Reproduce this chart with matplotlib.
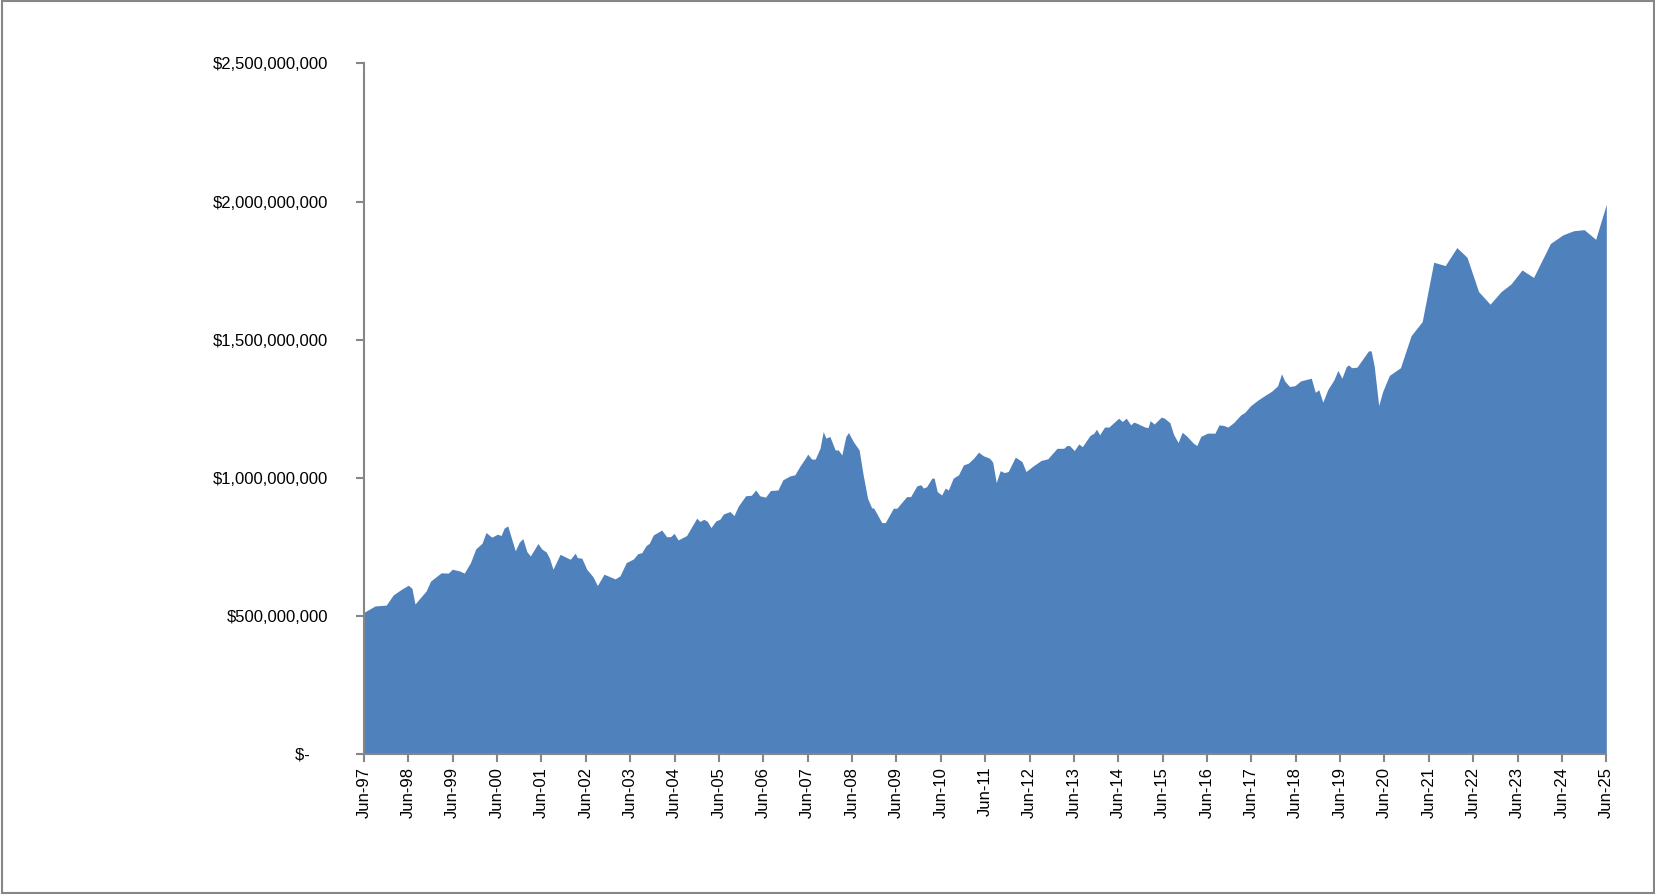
import matplotlib
matplotlib.use("Agg")
import matplotlib.pyplot as plt
from matplotlib.ticker import FuncFormatter, FixedLocator

# decimal year, portfolio value in $ millions
years = [1997.5, 1997.75, 1998.0, 1998.16, 1998.35, 1998.5, 1998.58, 1998.65, 1998.76, 1998.9,
         1999.0, 1999.24, 1999.4, 1999.49, 1999.65, 1999.76, 1999.9, 2000.02, 2000.16, 2000.25,
         2000.38, 2000.51, 2000.59, 2000.66, 2000.74, 2000.91, 2001.0, 2001.08, 2001.17, 2001.25,
         2001.42, 2001.51, 2001.61, 2001.68, 2001.76, 2001.92, 2002.15, 2002.26, 2002.31, 2002.41,
         2002.52, 2002.66, 2002.76, 2002.91, 2003.16, 2003.27, 2003.41, 2003.57, 2003.67, 2003.76,
         2003.86, 2003.93, 2004.02, 2004.21, 2004.32, 2004.41, 2004.49, 2004.58, 2004.77, 2005.0,
         2005.07, 2005.16, 2005.24, 2005.32, 2005.43, 2005.52, 2005.6, 2005.75, 2005.84, 2005.93,
         2006.1, 2006.23, 2006.33, 2006.42, 2006.55, 2006.66, 2006.83, 2006.94, 2007.1, 2007.21,
         2007.32, 2007.47, 2007.5, 2007.59, 2007.67, 2007.78, 2007.85, 2007.91, 2008.0, 2008.12,
         2008.19, 2008.27, 2008.36, 2008.42, 2008.53, 2008.66, 2008.75, 2008.85, 2008.94, 2008.99,
         2009.17, 2009.25, 2009.43, 2009.51, 2009.73, 2009.82, 2009.96, 2010.05, 2010.11, 2010.18,
         2010.3, 2010.35, 2010.42, 2010.52, 2010.6, 2010.67, 2010.78, 2010.9, 2011.01, 2011.12,
         2011.24, 2011.35, 2011.46, 2011.6, 2011.67, 2011.75, 2011.84, 2011.93, 2012.02, 2012.18,
         2012.33, 2012.42, 2012.59, 2012.76, 2012.91, 2013.12, 2013.27, 2013.34, 2013.4, 2013.51,
         2013.61, 2013.69, 2013.86, 2013.95, 2014.01, 2014.08, 2014.19, 2014.29, 2014.44, 2014.51,
         2014.59, 2014.68, 2014.78, 2014.85, 2014.93, 2015.1, 2015.17, 2015.22, 2015.31, 2015.47,
         2015.54, 2015.63, 2015.66, 2015.75, 2015.85, 2015.94, 2016.04, 2016.19, 2016.27, 2016.36,
         2016.51, 2016.68, 2016.77, 2016.87, 2016.97, 2017.1, 2017.26, 2017.35, 2017.48, 2017.65,
         2017.8, 2017.95, 2018.09, 2018.18, 2018.25, 2018.36, 2018.48, 2018.61, 2018.85, 2018.94,
         2019.02, 2019.11, 2019.22, 2019.36, 2019.45, 2019.54, 2019.64, 2019.69, 2019.76, 2019.88,
         2020.14, 2020.2, 2020.27, 2020.37, 2020.46, 2020.61, 2020.86, 2021.1, 2021.35, 2021.61,
         2021.87, 2022.13, 2022.36, 2022.62, 2022.88, 2023.13, 2023.35, 2023.6, 2023.86, 2024.24,
         2024.52, 2024.76, 2025.0, 2025.26, 2025.5]
values = [512, 535, 538, 575, 596, 610, 599, 542, 563, 589,
          625, 655, 654, 668, 662, 654, 692, 742, 762, 801,
          784, 795, 790, 817, 825, 735, 766, 779, 732, 716,
          761, 741, 730, 708, 668, 722, 704, 726, 710, 708,
          668, 641, 609, 650, 633, 644, 692, 705, 724, 728,
          754, 762, 792, 810, 786, 786, 798, 774, 790, 853,
          841, 849, 841, 819, 843, 849, 868, 877, 862, 895,
          934, 936, 955, 934, 929, 953, 955, 992, 1006, 1010,
          1040, 1076, 1085, 1067, 1067, 1107, 1167, 1143, 1149, 1100,
          1100, 1082, 1149, 1163, 1130, 1100, 1010, 925, 891, 889,
          837, 837, 889, 889, 931, 931, 970, 974, 962, 967,
          998, 998, 949, 937, 962, 955, 998, 1010, 1046, 1052,
          1070, 1092, 1079, 1070, 1056, 982, 1025, 1018, 1022, 1074,
          1058, 1022, 1043, 1062, 1068, 1106, 1106, 1116, 1116, 1098,
          1122, 1112, 1152, 1161, 1175, 1155, 1183, 1183, 1205, 1215,
          1203, 1215, 1191, 1201, 1196, 1183, 1181, 1206, 1194, 1219,
          1215, 1203, 1200, 1155, 1127, 1164, 1151, 1125, 1116, 1149,
          1161, 1161, 1191, 1189, 1183, 1199, 1227, 1236, 1260, 1281,
          1297, 1312, 1332, 1376, 1350, 1330, 1333, 1350, 1360, 1309,
          1318, 1273, 1318, 1354, 1388, 1360, 1402, 1408, 1398, 1400,
          1459, 1459, 1402, 1261, 1312, 1370, 1398, 1514, 1565, 1780,
          1768, 1833, 1798, 1674, 1628, 1674, 1701, 1752, 1725, 1848,
          1879, 1894, 1898, 1863, 1990]

tick_years = list(range(1997, 2026))
tick_labels = ["Jun-%02d" % (y % 100) for y in tick_years]

GRAY = "#868686"
FILL = "#4f81bd"

plt.rcParams["font.family"] = ["Liberation Sans", "DejaVu Sans"]

fig = plt.figure(figsize=(16.56, 8.94), dpi=100)
ax = fig.add_axes([0.2198, 0.157, 0.7502, 0.772])

ax.fill_between(years, [v * 1e6 for v in values], 0, color=FILL, linewidth=0)

ax.set_xlim(1997.5, 2025.5)
ax.set_ylim(0, 2.5e9)
ax.xaxis.set_major_locator(FixedLocator([y + 0.5 for y in tick_years]))
ax.set_xticklabels(tick_labels, rotation=90)
ax.set_yticks([0, 5e8, 1e9, 1.5e9, 2e9, 2.5e9])


def money(v, pos):
    if v == 0:
        return "$-    "
    return "${:,.0f}".format(v)


ax.yaxis.set_major_formatter(FuncFormatter(money))
for s in ["top", "right"]:
    ax.spines[s].set_visible(False)
for s in ["left", "bottom"]:
    ax.spines[s].set_color(GRAY)
    ax.spines[s].set_linewidth(1.5)
ax.tick_params(axis="both", colors=GRAY, labelcolor="black", labelsize=12,
               length=6, width=1.5, direction="out")
ax.tick_params(axis="y", pad=20)

# outer chart border
fig.add_artist(plt.Rectangle((0.001, 0.001), 0.998, 0.998, transform=fig.transFigure,
                             fill=False, edgecolor=GRAY, linewidth=1.5))

fig.savefig("out.png", dpi=100)
